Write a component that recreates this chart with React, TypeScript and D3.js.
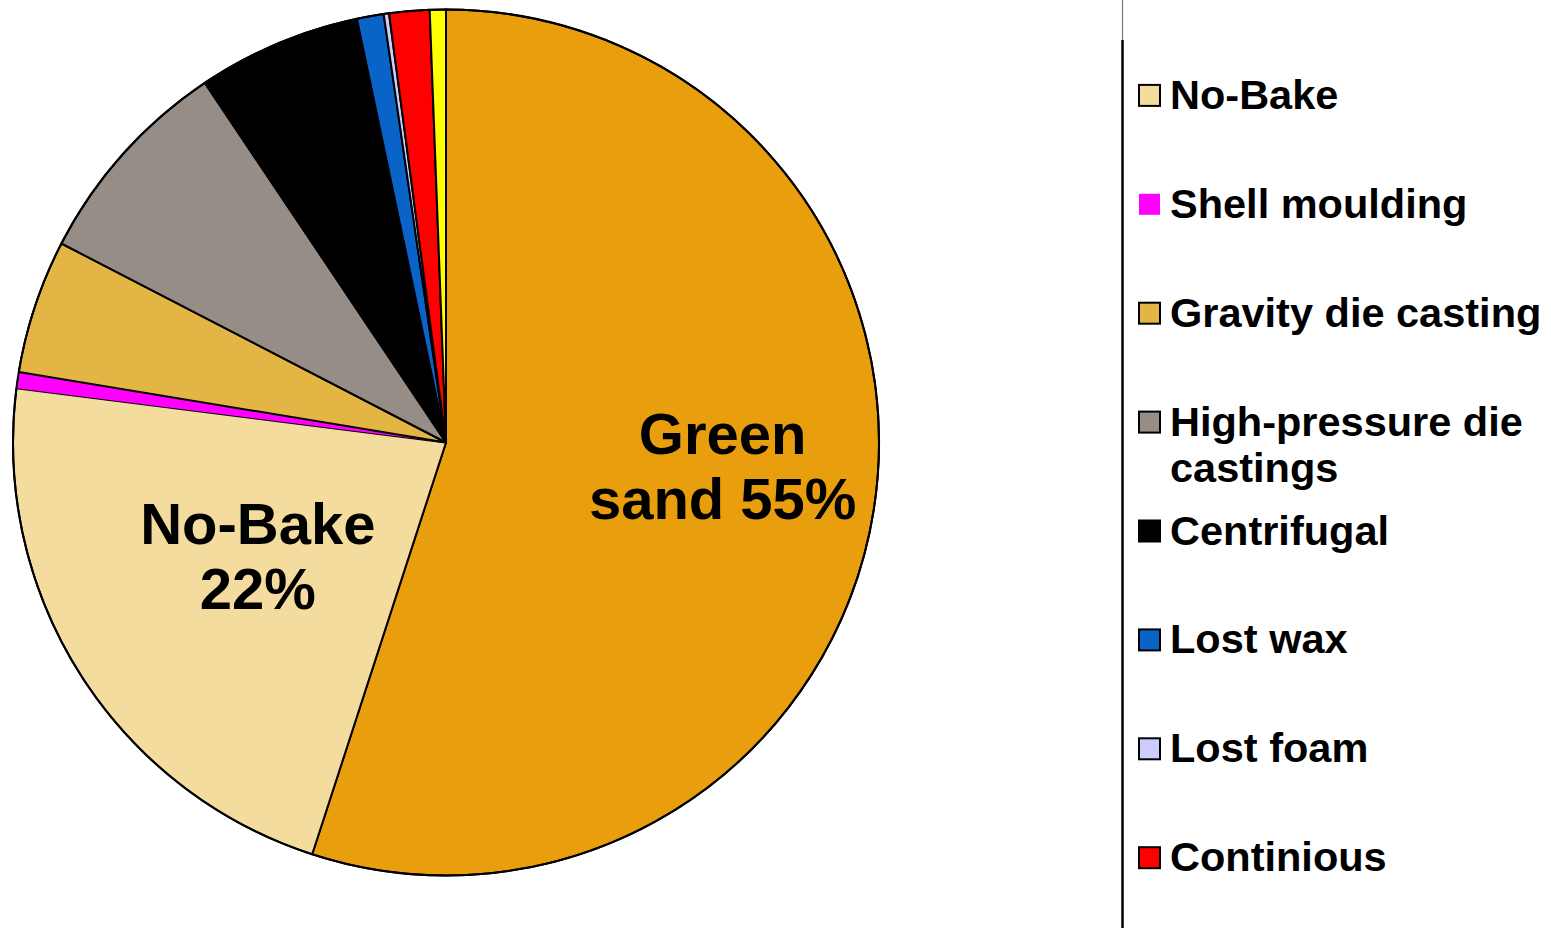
import React from "react";
import * as d3 from "d3";

const categories = [
  "Green sand",
  "No-Bake",
  "Shell moulding",
  "Gravity die casting",
  "High-pressure die castings",
  "Centrifugal",
  "Lost wax",
  "Lost foam",
  "Continious",
  "Other",
];
const shares = [55, 22, 0.6, 5, 8, 6.1, 1, 0.2, 1.5, 0.6];
const colors = [
  "#E99F0D",
  "#F3DC9D",
  "#FF00FF",
  "#E3B544",
  "#968D86",
  "#000000",
  "#0A64C8",
  "#CCCCFF",
  "#FF0000",
  "#FFFF00",
];
const legendLines = [
  ["Green sand"],
  ["No-Bake"],
  ["Shell moulding"],
  ["Gravity die casting"],
  ["High-pressure die", "castings"],
  ["Centrifugal"],
  ["Lost wax"],
  ["Lost foam"],
  ["Continious"],
];
const sliceLabels: Record<number, string[]> = {
  0: ["Green", "sand 55%"],
  1: ["No-Bake", "22%"],
};

const W = 1551;
const H = 928;
const CX = 446;
const CY = 442.5;
const R = 433;

export default function App() {
  const data = categories.map((c, i) => ({ name: c, value: shares[i], i }));
  const pie = d3
    .pie<any>()
    .sort(null)
    .value((d: any) => d.value)
    .startAngle(0)
    .endAngle(2 * Math.PI);
  const arcs = pie(data);
  const arc = d3.arc<any>().innerRadius(0).outerRadius(R);
  const labelRadius: Record<number, number> = { 0: 0.645 * R, 1: 0.525 * R };
  const labelAngleShift: Record<number, number> = { 0: -0.02, 1: -0.03 };

  const legendX = 1139;
  const legendTextX = 1170;
  const legendStart = 0;
  const legendPitch = 108.9;

  return (
    <svg
      width={W}
      height={H}
      style={{ position: "absolute", left: 0, top: 0, background: "#fff" }}
      fontFamily="'Liberation Sans', Arial, sans-serif"
    >
      <g transform={`translate(${CX},${CY})`}>
        {arcs.map((a, k) => (
          <path
            key={k}
            d={arc(a) as string}
            fill={colors[k]}
            stroke={k === 2 ? "none" : "#000"}
            strokeWidth={2}
            strokeLinejoin="round"
          />
        ))}
        <circle r={R} fill="none" stroke="#000" strokeWidth={2} />
        {arcs.map((a, k) => {
          const lines = sliceLabels[k];
          if (!lines) return null;
          const mid = (a.startAngle + a.endAngle) / 2 + (labelAngleShift[k] || 0);
          const lr = labelRadius[k];
          const x = lr * Math.sin(mid);
          const y = -lr * Math.cos(mid);
          const lh = 65;
          return (
            <text
              key={"l" + k}
              textAnchor="middle"
              fontSize={58}
              fontWeight="bold"
              fill="#000"
            >
              {lines.map((t, j) => (
                <tspan key={j} x={x} y={y + (j - (lines.length - 1) / 2) * lh + 6}>
                  {t}
                </tspan>
              ))}
            </text>
          );
        })}
      </g>
      <line x1={1122.5} x2={1122.5} y1={0} y2={40} stroke="#777" strokeWidth={1.2} />
      <line x1={1122.5} x2={1122.5} y1={40} y2={H} stroke="#000" strokeWidth={2.5} />
      {legendLines.map((lines, i) => {
        const base = legendStart + i * legendPitch;
        return (
          <g key={i}>
            <rect
              x={legendX}
              y={base - 24}
              width={21}
              height={21}
              fill={colors[i]}
              stroke={i === 2 ? "none" : "#000"}
              strokeWidth={2}
            />
            <text x={legendTextX} y={base} fontSize={41.5} fontWeight="bold" fill="#000">
              {lines.map((t, j) => (
                <tspan key={j} x={legendTextX} y={base + j * 46}>
                  {t}
                </tspan>
              ))}
            </text>
          </g>
        );
      })}
    </svg>
  );
}
